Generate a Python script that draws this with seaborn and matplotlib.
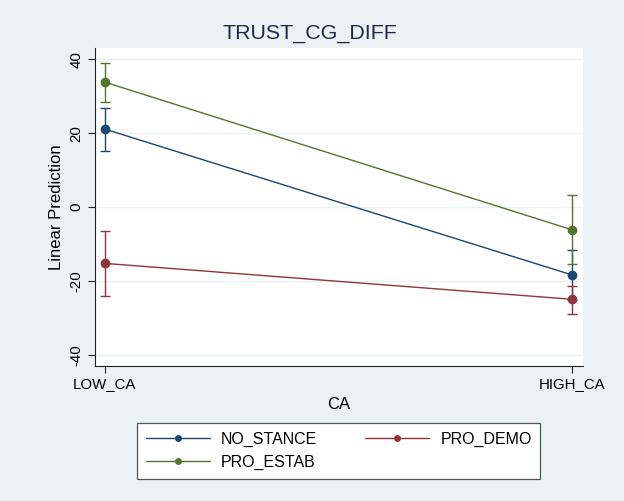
import pandas as pd
import seaborn as sns
import numpy as np
import matplotlib
matplotlib.use("Agg")
import matplotlib.pyplot as plt

# values
ca_levels = ["LOW_CA", "HIGH_CA"]
groups = ["NO_STANCE", "PRO_DEMO", "PRO_ESTAB"]
pred = {
    "NO_STANCE": [21.1, -18.3],
    "PRO_DEMO": [-15.2, -24.9],
    "PRO_ESTAB": [33.8, -6.1],
}
ci_low = {
    "NO_STANCE": [15.3, -25.0],
    "PRO_DEMO": [-24.0, -29.0],
    "PRO_ESTAB": [28.5, -15.4],
}
ci_high = {
    "NO_STANCE": [26.7, -11.6],
    "PRO_DEMO": [-6.5, -21.2],
    "PRO_ESTAB": [38.9, 3.3],
}
y_ticks = [-40, -20, 0, 20, 40]

colors = {"NO_STANCE": "#1a476f", "PRO_DEMO": "#90353b", "PRO_ESTAB": "#55752f"}
bg = "#eaf2f3"

rows = []
for g in groups:
    for i, lvl in enumerate(ca_levels):
        rows.append({"x": i, "CA": lvl, "group": g, "pred": pred[g][i],
                     "lo": ci_low[g][i], "hi": ci_high[g][i]})
df = pd.DataFrame(rows)

sns.set_style("white")
plt.rcParams["font.family"] = ["Liberation Sans", "DejaVu Sans"]
plt.rcParams["text.color"] = "black"
plt.rcParams["axes.labelcolor"] = "black"
plt.rcParams["xtick.color"] = "black"
plt.rcParams["ytick.color"] = "black"

fig = plt.figure(figsize=(6.24, 5.01), dpi=100, facecolor=bg)
ax = fig.add_axes([0.152, 0.269, 0.782, 0.635])
ax.set_facecolor("white")

# confidence intervals
for g in groups:
    sub = df[df.group == g]
    ax.errorbar(sub.x, sub.pred, yerr=[sub.pred - sub.lo, sub.hi - sub.pred],
                fmt="none", ecolor=colors[g], elinewidth=1.0, capsize=3.3,
                capthick=1.0, zorder=2)

sns.lineplot(data=df, x="x", y="pred", hue="group", hue_order=groups,
             palette=colors, marker="o", markersize=7, markeredgewidth=0,
             linewidth=1.0, ax=ax, zorder=3)

ax.set_xlim(-0.0214, 1.0236)
ax.set_ylim(-43, 43)
ax.set_xticks([0, 1])
ax.set_xticklabels(ca_levels, fontsize=10.8)
ax.set_yticks(y_ticks)
ax.set_yticklabels([str(t) for t in y_ticks], fontsize=10.8, rotation=90, va="center")
ax.yaxis.grid(True, color=bg, linewidth=1.0)
ax.set_axisbelow(True)
ax.tick_params(axis="both", length=5, width=0.8, color="#222222", bottom=True, left=True, pad=3)

for s in ["top", "right"]:
    ax.spines[s].set_visible(False)
for s in ["left", "bottom"]:
    ax.spines[s].set_color("#222222")
    ax.spines[s].set_linewidth(0.8)

ax.set_xlabel("CA", fontsize=12, labelpad=4)
ax.set_ylabel("Linear Prediction", fontsize=12, labelpad=4)

fig.text(0.497, 0.934, "TRUST_CG_DIFF", ha="center", va="center",
         fontsize=15.4, color="#1e2a4a")

# legend, arranged like stata: NO_STANCE PRO_DEMO / PRO_ESTAB
handles, labels = ax.get_legend_handles_labels()
hmap = dict(zip(labels, handles))
order = ["NO_STANCE", "PRO_ESTAB", "PRO_DEMO"]
ax.get_legend().remove()
leg = fig.legend([hmap[l] for l in order], order, ncol=2, loc="center",
                 bbox_to_anchor=(0.543, 0.1),
                 frameon=True, fancybox=False, edgecolor="#555555",
                 framealpha=1, facecolor="white",
                 fontsize=11.5, handlelength=4.0, columnspacing=3.0,
                 borderpad=0.55, labelspacing=0.48, handletextpad=0.7,
                 borderaxespad=0)
leg.get_frame().set_linewidth(0.9)
for h in leg.legend_handles:
    h.set_markersize(5)

fig.savefig("out.png", dpi=100, facecolor=bg)
